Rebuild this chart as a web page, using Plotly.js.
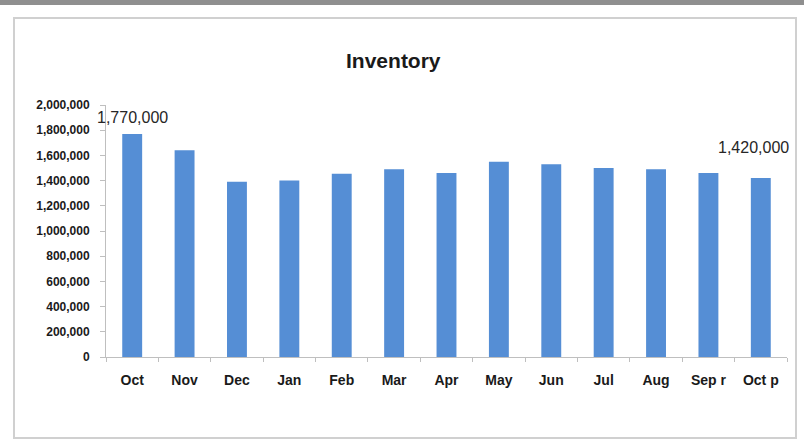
<!DOCTYPE html>
<html>
<head>
<meta charset="utf-8">
<script src="https://cdn.plot.ly/plotly-3.0.1.min.js"></script>
<style>
  html, body { margin: 0; padding: 0; background: #ffffff; width: 804px; height: 447px; overflow: hidden; }
  #band { position: absolute; left: 0; top: 0; width: 804px; height: 5px; background: #8f8f8f; }
  #box { position: absolute; left: 13px; top: 17px; width: 780px; height: 418px; border: 2px solid #d0d0d0; background: #fff; }
  #chart { width: 780px; height: 418px; }
</style>
</head>
<body>
<div id="band"></div>
<div id="box"><div id="chart"></div></div>
<script>
const categories = ["Oct", "Nov", "Dec", "Jan", "Feb", "Mar", "Apr", "May", "Jun", "Jul", "Aug", "Sep r", "Oct p"];
const inventory = [1770000, 1640000, 1390000, 1400000, 1455000, 1490000, 1460000, 1550000, 1530000, 1500000, 1490000, 1460000, 1420000];
const labelledIndexes = [0, 12];
const yTicks = [0, 200000, 400000, 600000, 800000, 1000000, 1200000, 1400000, 1600000, 1800000, 2000000];

const fmt = v => v.toLocaleString("en-US");
const FONT = "Liberation Sans, Arial, sans-serif";

const trace = {
  type: "bar",
  x: categories,
  y: inventory,
  marker: { color: "#558ed5" },
  hoverinfo: "skip"
};

const annotations = labelledIndexes.map(i => ({
  x: categories[i],
  y: inventory[i],
  xref: "x", yref: "y",
  text: fmt(inventory[i]),
  showarrow: false,
  yanchor: "bottom",
  yshift: i === 0 ? 6 : 20,
  xshift: i === 0 ? 0 : -7,
  font: { family: FONT, size: 16, color: "#262626" }
}));

const layout = {
  width: 780, height: 418,
  margin: { l: 91, r: 8, t: 86, b: 80, autoexpand: false },
  paper_bgcolor: "#ffffff",
  plot_bgcolor: "#ffffff",
  showlegend: false,
  bargap: 0.62,
  title: {
    text: "<b>Inventory</b>",
    x: 0.485, xanchor: "center",
    y: 0.9, yanchor: "middle",
    yref: "container",
    automargin: false,
    font: { family: FONT, size: 21, color: "#1a1a1a" }
  },
  xaxis: {
    type: "category",
    range: [-0.5, categories.length - 0.5],
    automargin: false,
    showline: true, linecolor: "#bfbfbf", linewidth: 1,
    ticks: "outside", tickson: "boundaries", ticklen: 4, tickcolor: "#bfbfbf",
    showgrid: false,
    tickfont: { family: FONT, size: 14, color: "#1a1a1a", weight: "bold" },
    ticklabelstandoff: 10
  },
  yaxis: {
    automargin: false,
    range: [0, 2000000],
    tickvals: yTicks,
    ticktext: yTicks.map(fmt),
    showline: true, linecolor: "#bfbfbf", linewidth: 1,
    ticks: "outside", ticklen: 5, tickcolor: "#bfbfbf",
    showgrid: false, zeroline: false,
    ticklabelstandoff: 8,
    tickfont: { family: FONT, size: 12, color: "#1a1a1a", weight: "bold" }
  },
  annotations: annotations
};

Plotly.newPlot("chart", [trace], layout, { displayModeBar: false, staticPlot: true });
</script>
</body>
</html>
